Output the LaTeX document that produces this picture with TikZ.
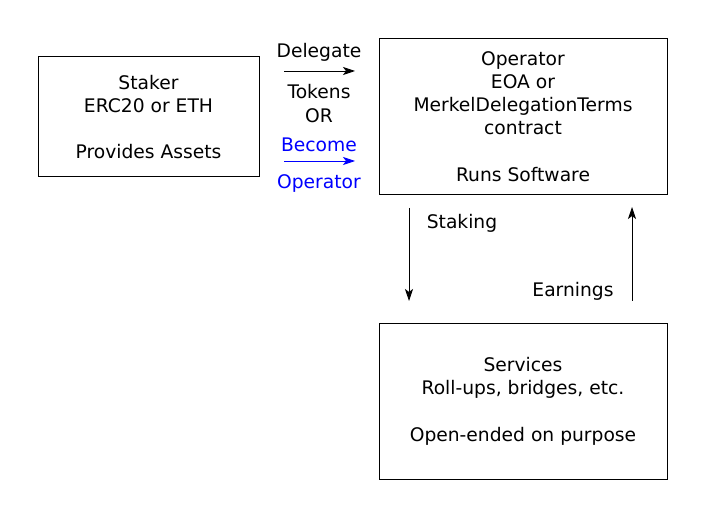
\documentclass[tikz,border=0pt]{standalone}
\usepackage{fontspec}
\setmainfont{DejaVu Sans}
\usetikzlibrary{arrows.meta}
\begin{document}
\begin{tikzpicture}[x=1pt,y=-1pt,
  txt/.style={font=\fontsize{18.7}{23.3}\selectfont, align=center, inner sep=0pt},
  boxed/.style={draw, line width=0.8pt},
  conn/.style={line width=0.8pt, -{Stealth[length=12pt,width=8pt,inset=3pt]}},
  blueish/.style={text=blue}]
\useasboundingbox (0,0) rectangle (706,518);
% boxes
\draw[boxed] (38,56) rectangle (259,176);
\draw[boxed] (379,38) rectangle (667,194);
\draw[boxed] (379,323) rectangle (667,479);
\node[txt] (staker) at (148.5,117) {Staker\\ERC20 or ETH\\[23.3pt]Provides Assets};
\node[txt] (operator) at (523,116.5) {Operator\\EOA or\\MerkelDelegationTerms\\contract\\[23.3pt]Runs Software};
\node[txt] (services) at (523,401) {Services\\Roll-ups, bridges, etc.\\[23.3pt]Open-ended on purpose};
% middle labels
\node[txt] (delegate) at (319,52.5) {Delegate};
\node[txt] (tokens) at (319,91.5) {Tokens};
\node[txt] (or) at (319,115.5) {OR};
\node[txt,blueish] (become) at (319,144.5) {Become};
\node[txt,blueish] (opword) at (319,183.5) {Operator};
\coordinate (d1) at (284,71);
\coordinate (d2) at (355,71);
\coordinate (b1) at (284,161);
\coordinate (b2) at (355,161);
\draw[conn] (d1) -- (d2);
\draw[conn, blue] (b1) -- (b2);
% vertical arrows
\coordinate (s1) at (409,208);
\coordinate (s2) at (409,301);
\coordinate (e1) at (632,301);
\coordinate (e2) at (632,207);
\draw[conn] (s1) -- (s2);
\draw[conn] (e1) -- (e2);
\node[txt] (staking) at (462,223.5) {Staking};
\node[txt] (earnings) at (573,291.5) {Earnings};
\end{tikzpicture}
\end{document}
